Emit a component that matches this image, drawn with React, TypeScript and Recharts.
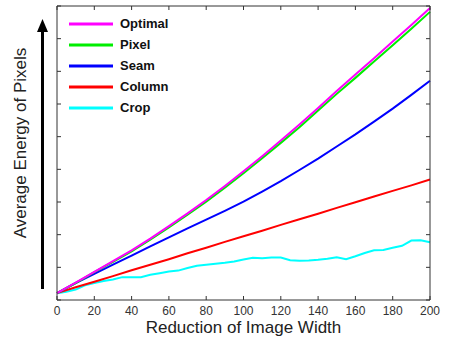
import React from 'react';
import { LineChart, Line, XAxis, YAxis } from 'recharts';

const xTicks = [0, 20, 40, 60, 80, 100, 120, 140, 160, 180, 200];
const yTicks = [0, 1, 2, 3, 4, 5, 6, 7, 8, 9];

// reduction steps for the smooth curves and for the noisy crop curve
const steps = [0, 10, 20, 30, 40, 50, 60, 70, 80, 90, 100, 110, 120, 130, 140, 150, 160, 170, 180, 190, 200];
const cropSteps = [
  0, 5, 10, 15, 20, 25, 30, 35, 40, 45, 50, 55, 60, 65, 70, 75, 80, 85, 90, 95, 100,
  105, 110, 115, 120, 125, 130, 135, 140, 145, 150, 155, 160, 165, 170, 175, 180, 185, 190, 195, 200,
];

const optimal = [0.21, 0.53, 0.86, 1.19, 1.52, 1.88, 2.26, 2.65, 3.06, 3.49, 3.94, 4.4, 4.88, 5.37, 5.88, 6.4, 6.9, 7.4, 7.91, 8.42, 8.94];
const pixel = [0.21, 0.52, 0.85, 1.17, 1.49, 1.85, 2.22, 2.61, 3.01, 3.44, 3.88, 4.34, 4.81, 5.29, 5.8, 6.31, 6.8, 7.3, 7.8, 8.3, 8.82];
const seam = [0.21, 0.52, 0.8, 1.08, 1.36, 1.64, 1.92, 2.19, 2.46, 2.73, 3.01, 3.32, 3.64, 3.98, 4.33, 4.7, 5.07, 5.46, 5.86, 6.28, 6.71];
const column = [0.21, 0.39, 0.56, 0.73, 0.91, 1.08, 1.25, 1.43, 1.6, 1.78, 1.95, 2.12, 2.3, 2.47, 2.64, 2.82, 2.99, 3.17, 3.34, 3.51, 3.69];
const crop = [
  0.21, 0.25, 0.32, 0.45, 0.52, 0.58, 0.63, 0.7, 0.7, 0.7, 0.77, 0.82, 0.87, 0.9, 0.98, 1.05, 1.08, 1.11, 1.14, 1.18, 1.24,
  1.29, 1.28, 1.3, 1.3, 1.22, 1.2, 1.21, 1.23, 1.26, 1.31, 1.25, 1.34, 1.44, 1.52, 1.53, 1.6, 1.66, 1.82, 1.83, 1.77,
];

const toPoints = (xs: number[], ys: number[]) => xs.map((x, i) => ({ x, y: ys[i] }));

const series = [
  { name: 'Optimal', color: '#ff00ff', data: toPoints(steps, optimal) },
  { name: 'Pixel', color: '#00ee00', data: toPoints(steps, pixel) },
  { name: 'Seam', color: '#0000ff', data: toPoints(steps, seam) },
  { name: 'Column', color: '#ff0000', data: toPoints(steps, column) },
  { name: 'Crop', color: '#00ffff', data: toPoints(cropSteps, crop) },
];
// draw order: crop at the back, optimal on top
const drawOrder = ['Crop', 'Column', 'Seam', 'Pixel', 'Optimal'];

const FONT = '"Liberation Sans", Arial, sans-serif';
const AXIS = '#333';
const GAP = 4;

const BottomTick = (props: any) => {
  const { x, y, payload } = props;
  return (
    <g>
      <line x1={x} x2={x} y1={y - GAP} y2={y - GAP - 4} stroke={AXIS} />
      <text x={x} y={y} dy={10.5} textAnchor="middle" fontSize={12} fill="#333" fontFamily={FONT}>
        {payload.value}
      </text>
    </g>
  );
};

const NoLabel = () => <g />;

const LegendBox = () => (
  <div
    style={{
      position: 'absolute', left: 68, top: 13, fontFamily: FONT, fontWeight: 'bold',
      fontSize: 13, color: '#111', pointerEvents: 'none',
    }}
  >
    {series.map((s) => (
      <div key={s.name} style={{ display: 'flex', alignItems: 'center', height: 21 }}>
        <svg width={46} height={6} style={{ marginRight: 6 }}>
          <line x1={1} x2={45} y1={3} y2={3} stroke={s.color} strokeWidth={3} />
        </svg>
        <span>{s.name}</span>
      </div>
    ))}
  </div>
);

export default function App() {
  return (
    <div style={{ position: 'absolute', left: 0, top: 0, width: 470, height: 346, background: '#fff' }}>
      <LineChart width={470} height={346} margin={{ top: 6, right: 40, left: 57, bottom: 0 }}>
        <XAxis
          dataKey="x"
          type="number"
          domain={[0, 200]}
          ticks={xTicks}
          interval={0}
          height={46}
          axisLine={{ stroke: AXIS }}
          tickLine={false}
          tickSize={0}
          tickMargin={GAP}
          tick={<BottomTick />}
          label={{ value: 'Reduction of Image Width', position: 'insideBottom', offset: 13, fontSize: 17, fill: '#222', fontFamily: FONT }}
        />
        <XAxis
          xAxisId="top"
          dataKey="x"
          orientation="top"
          type="number"
          domain={[0, 200]}
          ticks={xTicks}
          interval={0}
          mirror
          tickSize={4}
          tick={NoLabel}
          axisLine={{ stroke: AXIS }}
          tickLine={{ stroke: AXIS }}
        />
        <YAxis type="number" domain={[0, 9]} ticks={yTicks} interval={0} mirror tickSize={4} tick={NoLabel} axisLine={{ stroke: AXIS }} tickLine={{ stroke: AXIS }} />
        <YAxis
          yAxisId="right"
          orientation="right"
          type="number"
          domain={[0, 9]}
          ticks={yTicks}
          interval={0}
          mirror
          tickSize={4}
          tick={NoLabel}
          axisLine={{ stroke: AXIS }}
          tickLine={{ stroke: AXIS }}
        />
        {/* invisible series so the top and right frame axes get drawn */}
        <Line
          xAxisId="top"
          yAxisId="right"
          data={series[0].data}
          dataKey="y"
          stroke="none"
          dot={false}
          activeDot={false}
          isAnimationActive={false}
        />
        {drawOrder.map((n) => {
          const s = series.find((d) => d.name === n)!;
          return (
            <Line
              key={s.name}
              data={s.data}
              dataKey="y"
              name={s.name}
              type="linear"
              stroke={s.color}
              strokeWidth={2}
              dot={false}
              isAnimationActive={false}
            />
          );
        })}
      </LineChart>
      <LegendBox />
      <svg width={470} height={346} style={{ position: 'absolute', left: 0, top: 0, pointerEvents: 'none' }}>
        <line x1={42.5} x2={42.5} y1={289} y2={30} stroke="#000" strokeWidth={3} />
        <polygon points="42.5,19 37,32 48,32" fill="#000" />
        <text
          x={20}
          y={143}
          transform="rotate(-90 20 143)"
          textAnchor="middle"
          dominantBaseline="central"
          fontSize={17}
          fill="#222"
          fontFamily={FONT}
        >
          Average Energy of Pixels
        </text>
      </svg>
    </div>
  );
}
